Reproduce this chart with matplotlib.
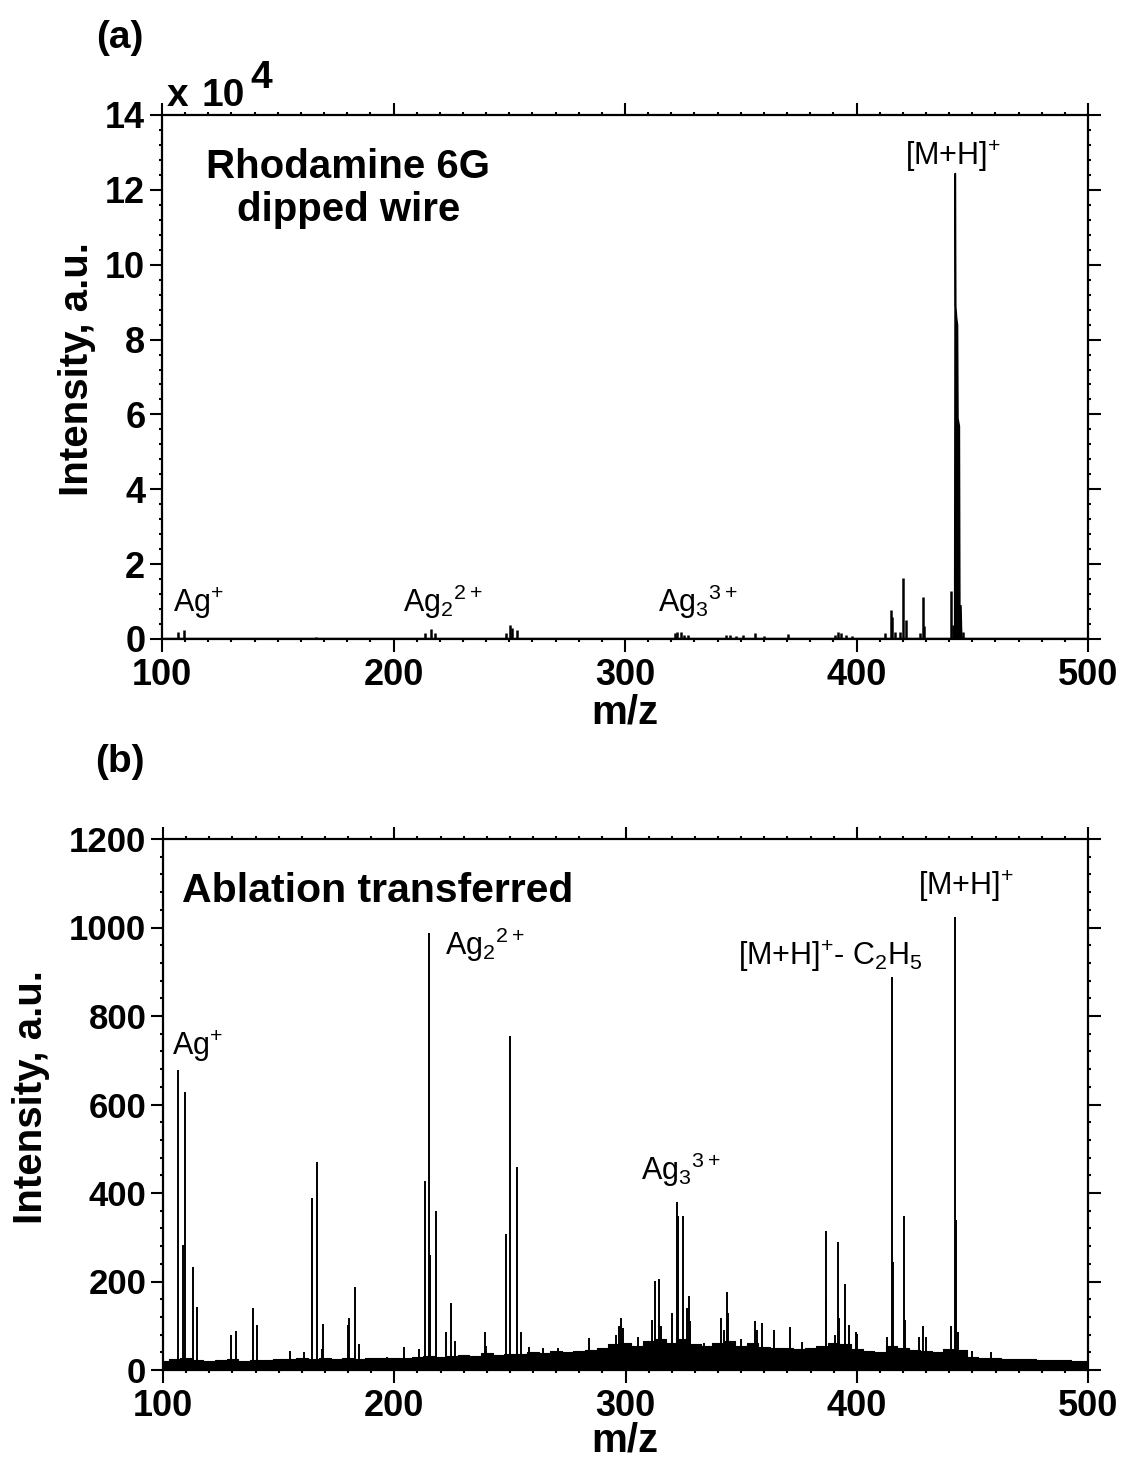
import matplotlib
matplotlib.use('Agg')
import matplotlib.pyplot as plt
from matplotlib.ticker import MultipleLocator

plt.rcParams['font.family'] = ['Liberation Sans', 'DejaVu Sans']
plt.rcParams['font.weight'] = 'normal'
plt.rcParams['mathtext.fontset'] = 'custom'
plt.rcParams['mathtext.rm'] = 'Liberation Sans'
plt.rcParams['mathtext.it'] = 'Liberation Sans'
plt.rcParams['mathtext.bf'] = 'Liberation Sans:bold'
plt.rcParams['mathtext.default'] = 'rm'

# ---------------- Panel (a): Rhodamine 6G dipped wire (intensity x 1e4) ----------
a_peak_mz = [106.8, 109.6, 166.4, 213.6, 216.0, 218.0, 248.6, 250.3, 251.0, 253.2,
             321.5, 322.5, 324.0, 325.5, 327.0, 343.5, 345.5, 348.0, 351.0, 356.2,
             360.0, 370.5, 390.5, 392.2, 393.5, 395.5, 398.0, 412.5, 414.7, 415.3,
             416.5, 419.0, 420.2, 421.2, 427.5, 428.6, 429.2, 440.7, 441.5, 445.8]
a_peak_int = [0.20, 0.25, 0.05, 0.15, 0.28, 0.15, 0.15, 0.38, 0.30, 0.25,
              0.15, 0.20, 0.20, 0.12, 0.10, 0.12, 0.10, 0.08, 0.10, 0.15,
              0.08, 0.13, 0.12, 0.20, 0.15, 0.10, 0.08, 0.15, 0.78, 0.60,
              0.20, 0.20, 1.62, 0.50, 0.15, 1.13, 0.34, 1.28, 0.38, 0.20]
# profile of the dominant [M+H]+ peak cluster
a_main_mz = [442.2, 442.45, 442.65, 443.0, 443.4, 443.6, 444.2, 444.4, 444.9, 445.1, 445.3]
a_main_int = [0.0, 12.45, 8.9, 8.6, 8.4, 5.9, 5.7, 0.9, 0.9, 0.3, 0.0]

# ---------------- Panel (b): Ablation transferred ----------
b_peak_mz = [106.3, 108.6, 109.4, 113.0, 114.8, 129.5, 131.4, 138.8, 140.5, 154.8,
             160.8, 164.4, 166.5, 168.8, 169.1, 180.1, 180.5, 182.9, 184.8, 197.0,
             204.1, 210.6, 213.3, 215.2, 215.6, 218.0, 222.5, 224.4, 226.1, 239.1,
             239.8, 248.3, 250.2, 252.9, 254.8, 258.4, 264.5, 270.9, 284.4, 296.0,
             297.2, 298.1, 299.0, 305.6, 311.5, 312.8, 314.6, 315.5, 320.3, 322.1,
             322.5, 324.9, 326.5, 327.3, 328.0, 334.0, 341.3, 342.5, 344.1, 344.5,
             350.0, 356.0, 357.0, 358.9, 364.2, 371.1, 376.3, 386.5, 386.9, 390.5,
             392.0, 392.4, 394.9, 396.8, 399.7, 400.2, 413.1, 415.2, 415.5, 420.6,
             420.9, 427.0, 428.7, 430.0, 440.8, 442.6, 442.9, 443.6, 450.0, 458.0]
b_peak_int = [677, 283, 629, 232, 143, 78, 89, 140, 102, 44,
              41, 388, 469, 47, 103, 102, 118, 187, 59, 30,
              52, 48, 426, 987, 260, 360, 86, 151, 66, 85,
              55, 308, 755, 458, 85, 53, 49, 49, 72, 80,
              100, 117, 95, 74, 113, 202, 205, 100, 128, 380,
              347, 347, 140, 168, 110, 60, 117, 90, 176, 128,
              70, 110, 90, 106, 91, 98, 63, 315, 155, 80,
              290, 117, 194, 102, 85, 81, 74, 888, 245, 347,
              113, 75, 100, 75, 100, 1024, 338, 85, 44, 41]
# upper envelope of the dense baseline noise band
b_noise_mz = [100, 105, 110, 115, 120, 125, 130, 135, 140, 145, 150, 155, 160, 165, 170,
              175, 180, 185, 190, 195, 200, 205, 210, 215, 220, 225, 230, 235, 240, 245,
              250, 255, 260, 265, 270, 275, 280, 285, 290, 295, 300, 305, 310, 315, 320,
              325, 330, 335, 340, 345, 350, 355, 360, 365, 370, 375, 380, 385, 390, 395,
              400, 405, 410, 415, 420, 425, 430, 435, 440, 445, 450, 455, 460, 465, 470,
              475, 480, 485, 490, 495, 500]
b_noise_int = [20, 24, 26, 22, 20, 22, 24, 21, 23, 22, 25, 24, 26, 25, 27,
               24, 26, 25, 27, 26, 28, 27, 30, 32, 30, 31, 33, 32, 38, 35,
               36, 37, 40, 38, 42, 40, 44, 45, 50, 58, 60, 55, 65, 70, 62,
               70, 58, 55, 62, 65, 55, 60, 52, 50, 50, 48, 50, 55, 60, 58,
               48, 42, 40, 55, 50, 45, 42, 40, 48, 45, 30, 27, 26, 25, 24,
               24, 23, 22, 22, 21, 20]

xticks = [100, 200, 300, 400, 500]
a_yticks = [0, 2, 4, 6, 8, 10, 12, 14]
b_yticks = [0, 200, 400, 600, 800, 1000, 1200]

W, H = 1125, 1460
fig = plt.figure(figsize=(W / 100, H / 100), dpi=100)


def fx(x):
    return x / W


def fy(y):
    return 1 - y / H


def style_axes(ax, ymajor, yminor, ytop, ylabsize):
    ax.set_xlim(100, 500)
    ax.set_ylim(0, ytop)
    ax.xaxis.set_major_locator(MultipleLocator(100))
    ax.xaxis.set_minor_locator(MultipleLocator(10))
    ax.yaxis.set_major_locator(MultipleLocator(ymajor))
    ax.yaxis.set_minor_locator(MultipleLocator(yminor))
    ax.tick_params(which='both', direction='out', top=True, right=True,
                   labeltop=False, labelright=False, width=1.5, colors='black')
    ax.tick_params(which='major', length=9)
    ax.tick_params(axis='x', which='major', labelsize=26, pad=5)
    ax.tick_params(axis='y', which='major', labelsize=ylabsize, pad=3)
    for s in ax.spines.values():
        s.set_linewidth(1.6)


def bold_ticks(ax):
    for lbl in ax.get_xticklabels() + ax.get_yticklabels():
        lbl.set_fontweight('bold')


# ---- panel (a)
axa = fig.add_axes([fx(162), fy(639), fx(1088 - 162), (639 - 115) / H])
style_axes(axa, 2, 0.4, 14, 26)
axa.set_xticks(xticks)
axa.set_yticks(a_yticks)
bold_ticks(axa)
axa.plot([100, 500], [0, 0], color='black', lw=2.5, zorder=2)
axa.vlines(a_peak_mz, 0, a_peak_int, color='black', lw=1.8)
axa.fill_between(a_main_mz, 0, a_main_int, color='black', lw=1.2, edgecolor='black')

axa.text(180.5, 12.32, 'Rhodamine 6G', ha='center', va='baseline', fontsize=29, fontweight='bold')
axa.text(180.5, 11.16, 'dipped wire', ha='center', va='baseline', fontsize=29, fontweight='bold')
axa.text(104.8, 0.72, r'Ag$^{+}$', fontsize=22, va='baseline')
axa.text(204.1, 0.72, r'Ag$_{2}$$^{2+}$', fontsize=22, va='baseline')
axa.text(314.3, 0.72, r'Ag$_{3}$$^{3+}$', fontsize=22, va='baseline')
axa.text(421.0, 12.66, r'[M+H]$^{+}$', fontsize=22, va='baseline')

fig.text(fx(120), fy(38), '(a)', ha='center', va='center', fontsize=28, fontweight='bold')
fig.text(fx(167), fy(106), 'x', ha='left', va='baseline', fontsize=28, fontweight='bold')
fig.text(fx(201), fy(106), '10', ha='left', va='baseline', fontsize=28, fontweight='bold')
fig.text(fx(250), fy(88), '4', ha='left', va='baseline', fontsize=28, fontweight='bold')
fig.text(fx(77), fy(369), 'Intensity, a.u.', ha='center', va='center', rotation=90,
         fontsize=29, fontweight='bold')
fig.text(fx(625), fy(712), 'm/z', ha='center', va='center', fontsize=29, fontweight='bold')

# ---- panel (b)
axb = fig.add_axes([fx(163), fy(1370), fx(1088 - 163), (1370 - 839) / H])
style_axes(axb, 200, 40, 1200, 25)
axb.set_xticks(xticks)
axb.set_yticks(b_yticks)
bold_ticks(axb)
axb.fill_between(b_noise_mz, 0, b_noise_int, color='black', lw=0.8, step='mid')
axb.vlines(b_peak_mz, 0, b_peak_int, color='black', lw=1.4)
axb.plot([100, 500], [0, 0], color='black', lw=1.5)

axb.text(108.2, 1058, 'Ablation transferred', fontsize=29.5, fontweight='bold', va='baseline')
axb.text(103.9, 712, r'Ag$^{+}$', fontsize=22, va='baseline')
axb.text(222.0, 938, r'Ag$_{2}$$^{2+}$', fontsize=22, va='baseline')
axb.text(306.7, 429, r'Ag$_{3}$$^{3+}$', fontsize=22, va='baseline')
axb.text(348.6, 915, r'[M+H]$^{+}$- C$_{2}$H$_{5}$', fontsize=22, va='baseline')
axb.text(426.5, 1073, r'[M+H]$^{+}$', fontsize=22, va='baseline')

fig.text(fx(120), fy(762), '(b)', ha='center', va='center', fontsize=28, fontweight='bold')
fig.text(fx(31), fy(1097), 'Intensity, a.u.', ha='center', va='center', rotation=90,
         fontsize=29, fontweight='bold')
fig.text(fx(625), fy(1440), 'm/z', ha='center', va='center', fontsize=29, fontweight='bold')

fig.savefig('out.png', dpi=100)
